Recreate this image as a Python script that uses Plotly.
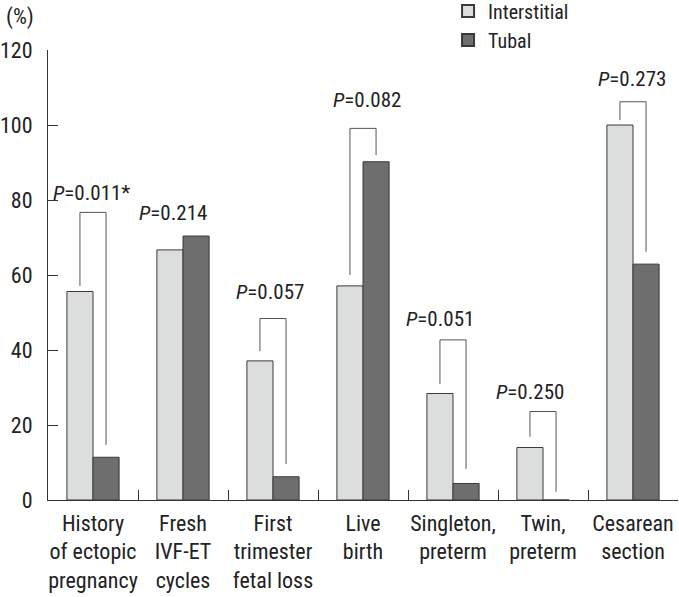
import plotly.graph_objects as go

categories = ["History<br>of ectopic<br>pregnancy", "Fresh<br>IVF-ET<br>cycles", "First<br>trimester<br>fetal loss",
              "Live<br>birth", "Singleton,<br>preterm", "Twin,<br>preterm", "Cesarean<br>section"]
interstitial = [55.6, 66.7, 37.1, 57.1, 28.4, 14.0, 100.0]
tubal = [11.4, 70.4, 6.2, 90.2, 4.4, 0.0, 62.9]
p_labels = ["<i>P</i>=0.011*", "<i>P</i>=0.214", "<i>P</i>=0.057", "<i>P</i>=0.082",
            "<i>P</i>=0.051", "<i>P</i>=0.250", "<i>P</i>=0.273"]
p_label_level = [82.0, 76.5, 55.5, 106.7, 48.3, 28.9, 112.4]
p_label_shift = [-0.02, -0.11, -0.03, 0.04, -0.14, -0.14, -0.01]
bracket_top = [76.7, None, 48.4, 99.1, 42.7, 23.6, 106.2]
bracket_left_end = [57.1, None, 39.7, 60.0, 30.9, 16.9, 101.3]
bracket_right_end = [14.7, None, 9.6, 92.0, 8.3, 2.2, 66.2]

FONT = "Roboto Condensed, DejaVu Sans Condensed, sans-serif"
TXT = "#222222"
bargap = 0.42
half = (1 - bargap) / 4  # center offset of each bar in category units

fig = go.Figure()
fig.add_trace(go.Bar(x=categories, y=interstitial, name="Interstitial",
                     marker=dict(color="#dcdddd", line=dict(color="#3a3a3a", width=1))))
fig.add_trace(go.Bar(x=categories, y=tubal, name="Tubal",
                     marker=dict(color="#6e6e6e", line=dict(color="#3a3a3a", width=1))))

shapes = []
annotations = []
for i in range(len(categories)):
    if bracket_top[i] is not None:
        xl, xr = i - half, i + half
        shapes.append(dict(type="path", xref="x", yref="y",
                           path=f"M {xl} {bracket_left_end[i]} L {xl} {bracket_top[i]} L {xr} {bracket_top[i]} L {xr} {bracket_right_end[i]}",
                           line=dict(color="#555555", width=1)))
    annotations.append(dict(x=i + p_label_shift[i], y=p_label_level[i], xref="x", yref="y",
                            text=p_labels[i], showarrow=False,
                            font=dict(family=FONT, size=21, color=TXT)))

annotations.append(dict(x=0.0, y=1.0, xref="paper", yref="paper", xanchor="left", yanchor="top",
                        xshift=-44, yshift=48, text="(%)", showarrow=False,
                        font=dict(family=FONT, size=22, color=TXT)))

fig.update_layout(
    width=679, height=597,
    margin=dict(l=48, r=1, t=50, b=97, autoexpand=False),
    paper_bgcolor="white", plot_bgcolor="white",
    barmode="group", bargap=bargap, bargroupgap=0,
    font=dict(family=FONT, size=22, color=TXT),
    shapes=shapes, annotations=annotations,
    legend=dict(x=0.635, y=1.13, xanchor="left", yanchor="top",
                font=dict(family=FONT, size=20, color=TXT),
                bgcolor="rgba(0,0,0,0)", itemsizing="constant", tracegroupgap=0),
    showlegend=True,
)
fig.update_yaxes(range=[0, 120], dtick=20, showline=True, linecolor="#333333", linewidth=1.2,
                 ticks="inside", ticklen=10, tickcolor="#333333", showgrid=False, zeroline=False,
                 ticklabelstandoff=10, tickfont=dict(family=FONT, size=22), automargin=False)
fig.update_xaxes(showline=True, linecolor="#333333", linewidth=1.2, ticks="inside", ticklen=10,
                 tickcolor="#333333", tickson="boundaries", showgrid=False, ticklabelstandoff=3,
                 tickfont=dict(family=FONT, size=22), tickangle=0, automargin=False)

fig.write_html("out.html", config={"displayModeBar": False},
               post_script="document.body.style.margin='0';")
